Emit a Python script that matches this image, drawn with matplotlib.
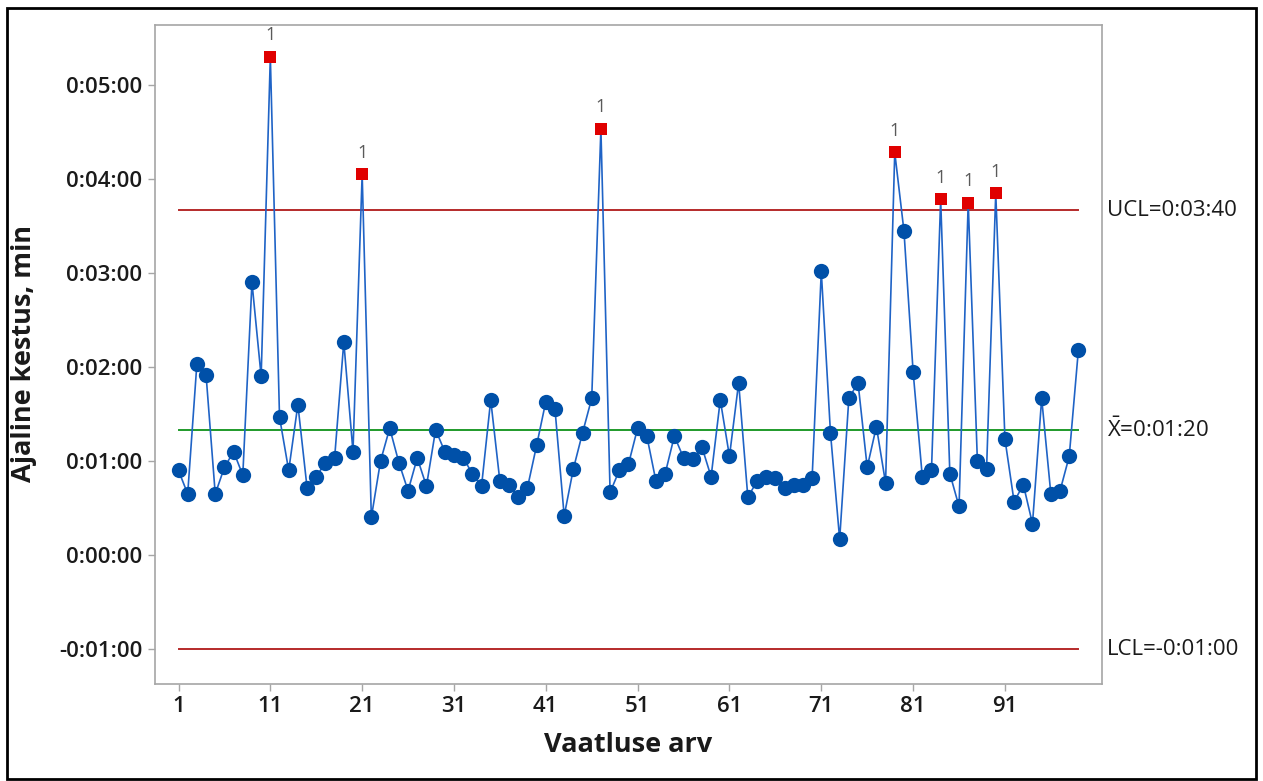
import matplotlib
matplotlib.use("Agg")
import matplotlib.pyplot as plt
from matplotlib.ticker import FuncFormatter
from matplotlib.patches import Rectangle

plt.rcParams["mathtext.fontset"] = "custom"
plt.rcParams["mathtext.rm"] = "Open Sans"
plt.rcParams["mathtext.it"] = "Open Sans:italic"
plt.rcParams["mathtext.bf"] = "Open Sans:bold"

# Observation durations in seconds (individual values)
values = [54, 39, 122, 115, 39, 56, 66, 51, 174, 114,
          318, 88, 54, 96, 43, 50, 59, 62, 136, 66,
          243, 24, 60, 81, 59, 41, 62, 44, 80, 66,
          64, 62, 52, 44, 99, 47, 45, 37, 43, 70,
          98, 93, 25, 55, 78, 100, 272, 40, 54, 58,
          81, 76, 47, 52, 76, 62, 61, 69, 50, 99,
          63, 110, 37, 47, 50, 49, 43, 45, 45, 49,
          181, 78, 10, 100, 110, 56, 82, 46, 257, 207,
          117, 50, 54, 227, 52, 31, 225, 60, 55, 231,
          74, 34, 45, 20, 100, 39, 41, 63, 131]
observations = list(range(1, len(values) + 1))
out_of_control = [11, 21, 47, 79, 84, 87, 90]

mean_cl = 80
ucl = 220
lcl = -60

x_ticks = [1, 11, 21, 31, 41, 51, 61, 71, 81, 91]
y_ticks = [-60, 0, 60, 120, 180, 240, 300]

def fmt_time(s, pos=None):
    s = int(round(s))
    sign = "-" if s < 0 else ""
    s = abs(s)
    return f"{sign}{s // 3600}:{(s % 3600) // 60:02d}:{s % 60:02d}"

W, H = 1263, 781
fig = plt.figure(figsize=(W / 100, H / 100), dpi=100)
ax = fig.add_axes([155 / W, 1 - 684 / H, (1102 - 155) / W, (684 - 25) / H])

blue = "#0050a8"
line_blue = "#1f63c6"
red_line = "#b52a2a"
green = "#1f9a2a"
txt = "#1a1a1a"

ax.plot([1, len(values)], [ucl, ucl], color=red_line, lw=1.4, zorder=1)
ax.plot([1, len(values)], [lcl, lcl], color=red_line, lw=1.4, zorder=1)
ax.plot([1, len(values)], [mean_cl, mean_cl], color=green, lw=1.4, zorder=1)

ax.plot(observations, values, color=line_blue, lw=1.2, zorder=2)
normal_x = [o for o in observations if o not in out_of_control]
normal_y = [values[o - 1] for o in normal_x]
ax.plot(normal_x, normal_y, linestyle="none", marker="o", ms=11,
        color=blue, markeredgewidth=0, zorder=3)
ooc_y = [values[o - 1] for o in out_of_control]
ax.plot(out_of_control, ooc_y, linestyle="none", marker="s", ms=9,
        color="#e00000", markeredgewidth=0, zorder=4)
for o, v in zip(out_of_control, ooc_y):
    ax.annotate("1", (o, v), xytext=(0, 9), textcoords="offset points",
                ha="center", va="bottom", fontsize=13, color="#5a5a5a",
                family="Open Sans")

ax.set_xlim(-1.56, 101.57)
ax.set_ylim(-82.3, 338.3)
ax.set_xticks(x_ticks)
ax.set_yticks(y_ticks)
ax.yaxis.set_major_formatter(FuncFormatter(fmt_time))

for sp in ax.spines.values():
    sp.set_color("#a6a6a6")
    sp.set_linewidth(1.2)
ax.tick_params(axis="both", colors="#a6a6a6", length=5, width=1.0,
               labelcolor=txt, labelsize=16, pad=4)
for lab in ax.get_xticklabels() + ax.get_yticklabels():
    lab.set_fontweight("semibold")
    lab.set_family("Open Sans")

fig.text(628 / W, 1 - 745 / H, "Vaatluse arv", fontsize=19.5, fontweight="bold",
         family="Open Sans", color=txt, ha="center", va="center")
fig.text(24 / W, 1 - 354 / H, "Ajaline kestus, min", fontsize=19.5, fontweight="bold",
         family="Open Sans", color=txt, ha="center", va="center", rotation=90)

tx = 1.0 + 5 / (1102 - 155)
ytr = ax.get_yaxis_transform()
ax.text(tx, ucl, "UCL=" + fmt_time(ucl), transform=ytr,
        va="center", ha="left", fontsize=16, color=txt, family="Open Sans")
ax.text(tx, mean_cl, r"$\bar{\mathrm{X}}$=" + fmt_time(mean_cl), transform=ytr,
        va="center", ha="left", fontsize=16, color=txt, family="Open Sans")
ax.text(tx, lcl, "LCL=" + fmt_time(lcl), transform=ytr,
        va="center", ha="left", fontsize=16, color=txt, family="Open Sans")

fig.patches.append(Rectangle((7 / W, 2 / H), (1256 - 7) / W, (773 - 2) / H,
                             transform=fig.transFigure, fill=False,
                             edgecolor="black", linewidth=2))

fig.savefig("out.png", dpi=100)
